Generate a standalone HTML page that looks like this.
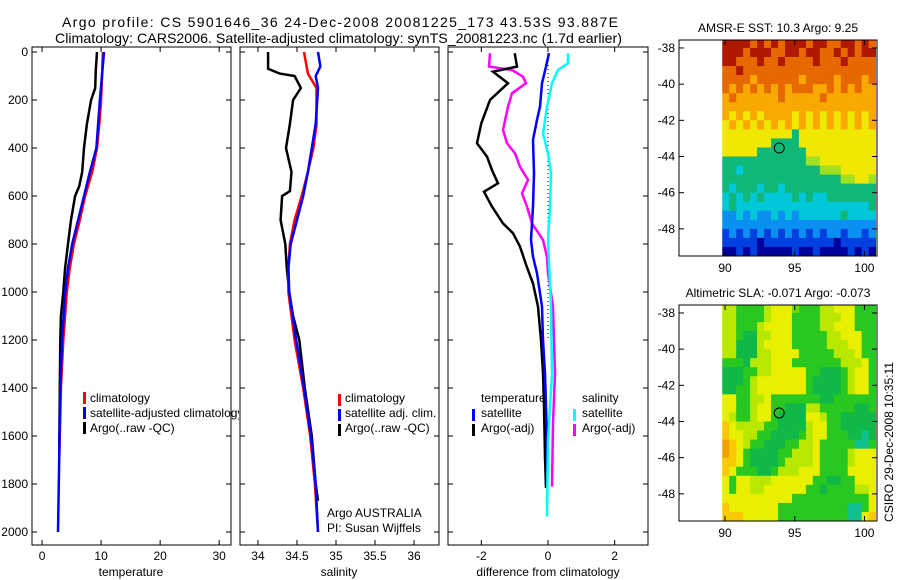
<!DOCTYPE html>
<html><head><meta charset="utf-8">
<style>
html,body{margin:0;padding:0;background:#fff;}
svg{display:block;font-family:"Liberation Sans",sans-serif;}
</style></head>
<body>
<svg id="fig" width="900" height="580" viewBox="0 0 900 580">
<text x="62" y="27" font-size="14" textLength="556" lengthAdjust="spacing">Argo profile: CS 5901646_36 24-Dec-2008 20081225_173 43.53S 93.887E</text>
<text x="55" y="43" font-size="14" textLength="567" lengthAdjust="spacingAndGlyphs">Climatology: CARS2006. Satellite-adjusted climatology: synTS_20081223.nc (1.7d earlier)</text>
<g id="layer"></g>
</svg>
<script>
// ---- profile data (depth in m) ----
const tDepthArgo = [0,75,150,200,300,400,500,560,600,700,800,900,1000,1100,1200,1400,1680];
const tArgo      = [9.3,9.1,9.0,8.3,7.6,7.1,6.8,6.3,5.6,4.9,4.4,3.9,3.6,3.2,3.1,3.0,2.9];
const tDepthClim = [0,200,300,400,500,600,700,800,900,1000,1200,1400,1700];
const tClim      = [10.3,10.0,9.7,9.3,8.5,7.3,6.4,5.4,4.7,4.2,3.6,3.2,2.9];
const tDepthSat  = [0,200,400,500,600,700,800,900,1000,1200,1400,1700,2000];
const tSat       = [10.5,9.8,9.2,8.1,7.1,6.1,5.1,4.4,3.9,3.4,3.1,2.9,2.7];

const sDepthArgo = [0,70,90,100,150,200,300,400,500,580,600,700,800,900,1000,1100,1200,1400,1600,1800,1870];
const sArgo      = [34.13,34.13,34.28,34.47,34.55,34.45,34.41,34.36,34.43,34.41,34.31,34.29,34.35,34.37,34.40,34.45,34.53,34.60,34.69,34.74,34.77];
const sDepthClim = [0,90,150,300,400,500,600,700,800,900,1000,1200,1400,1600,1800,2000];
const sClim      = [34.59,34.64,34.75,34.75,34.71,34.64,34.56,34.47,34.41,34.39,34.39,34.47,34.58,34.67,34.73,34.77];
const sDepthSat  = [0,60,100,150,300,400,500,600,700,800,900,1000,1200,1400,1600,1800,2000];
const sSat       = [34.77,34.80,34.74,34.77,34.74,34.69,34.64,34.58,34.50,34.42,34.39,34.40,34.49,34.59,34.68,34.74,34.77];

const dDepthTA = [5,61,82,130,200,297,380,436,492,547,582,644,714,755,811,894,964,1061,1200,1339,1478,1686,1817];
const dTempArgo = [-1.0,-0.93,-1.65,-1.2,-1.74,-2.0,-2.13,-1.83,-1.68,-1.5,-1.92,-1.68,-1.35,-1.05,-0.84,-0.64,-0.45,-0.3,-0.21,-0.15,-0.12,-0.09,-0.06];
const dDepthTS = [5,61,130,228,283,366,505,644,783,853,922,1061,1200,1339,1617,1800];
const dTempSat = [0.03,-0.06,-0.18,-0.24,-0.33,-0.45,-0.42,-0.45,-0.51,-0.45,-0.33,-0.18,-0.15,-0.09,-0.03,-0.03];
const dDepthSS = [5,47,75,130,228,339,422,505,644,783,1061,1339,1478,1617,1936];
const dSalSat  = [0.6,0.6,0.3,0.12,-0.03,-0.15,0,0.09,0.06,0,0.09,0.12,0.06,0,-0.03];
const dDepthSA = [5,61,75,103,130,172,228,325,380,422,478,533,589,644,714,783,853,922,1061,1200,1339,1547,1811];
const dSalArgo = [-1.74,-1.77,-1.08,-0.75,-0.66,-1.08,-1.2,-1.35,-1.23,-0.99,-0.84,-0.6,-0.78,-0.63,-0.48,-0.15,-0.03,0,0.15,0.18,0.21,0.15,0.12];

const depthTicks = [0,200,400,600,800,1000,1200,1400,1600,1800,2000];
const tTicks = [0,10,20,30];
const sTicks = [34,34.5,35,35.5,36];
const sTickLabels = ["34","34.5","35","35.5","36"];
const dTicks = [-2,0,2];

// ---- map data ----
const sstRows = [
"9999898989998998899898","9998999889989988989899","9988898898888988898888","8898888888888888888888",
"8888788888878888788878","8787878787888778787877","7877777787777787777777","7777777777777777777777",
"7676767777676767676767","6767676767676767676767","6666666666466666666666","6666666444466666666666",
"6666644444446666666666","4444444444445566666666","4434444444444455566666","4444444444444444455665",
"4344434434444444444444","3434343333434334444444","3433333333333333333334","2232322323233333343333",
"2222222222222222222222","1212121212121212212212","1111101111111111011111","0010100000100100001010"];
const slaRows = [
"3355553222455533222555","3355553222555533322555","3355532222555533222555","3356633222555553322255",
"3366632222555553332255","3366633222255555333255","5556333222555555533325","6665533222225566653225",
"6665322222225666653225","6655322222225666653225","2255332555555566555555","2255322556663355555665",
"2355322566662235566666","1233335566663225566666","1223355666653225556676","0123556665533255555775",
"0125666655333255553222","1125666653333255553222","1255566533322255552222","2522333222222556655222",
"2522332222225565555332","2222222222555555555552","1222222255555555557752","1112222255555555557721"];
const latTicks = [-38,-40,-42,-44,-46,-48];
const lonTicks = [90,95,100];
const argoLon = 93.887, argoLat = -43.53;

const NS="http://www.w3.org/2000/svg";
const LAYER=document.getElementById('layer');
function mk(tag,attrs,parent){const e=document.createElementNS(NS,tag);for(const k in attrs)e.setAttribute(k,attrs[k]);(parent||LAYER).appendChild(e);return e;}

const dY = d => 52 + d*0.24;
const panels = [
 {x0:32,x1:231,lo:-1.7,hi:32,name:'temperature'},
 {x0:240,x1:439,lo:33.77,hi:36.32,name:'salinity'},
 {x0:448,x1:648,lo:-3,hi:3,name:'difference'}
];
function sx(p,v){return p.x0+(v-p.lo)/(p.hi-p.lo)*(p.x1-p.x0);}
const pTop=47,pBot=545;

function drawLine(p,depths,vals,color,name){
  const pts=depths.map((d,i)=>sx(p,vals[i]).toFixed(1)+','+dY(d).toFixed(1)).join(' ');
  const e=mk('polyline',{points:pts,fill:'none',stroke:color,'stroke-width':2.5});
  
  
}

function txt(x,y,s,name,size,anchor,parent){
  const t=mk('text',{x:x,y:y,'font-size':size||12,'text-anchor':anchor||'start'},parent);
  t.textContent=s;
  
  
  return t;
}
function bar(x,y,c){mk('rect',{x:x,y:y-10,width:3,height:12,fill:c});}

panels.forEach((p,pi)=>{
  const g=mk('rect',{x:p.x0,y:pTop,width:p.x1-p.x0,height:pBot-pTop,fill:'#fff',stroke:'#000','stroke-width':1});
  
  
  depthTicks.forEach(d=>{
    mk('line',{x1:p.x0,x2:p.x0+5,y1:dY(d),y2:dY(d),stroke:'#000'});
    mk('line',{x1:p.x1-5,x2:p.x1,y1:dY(d),y2:dY(d),stroke:'#000'});
    if(pi===0){
      txt(28,dY(d)+4,String(d),'depth-tick-label',12,'end');
    }
  });
});

function xticks(p,ticks,labels){
  ticks.forEach((v,i)=>{
    const x=sx(p,v);
    mk('line',{x1:x,x2:x,y1:pBot-5,y2:pBot,stroke:'#000'});
    mk('line',{x1:x,x2:x,y1:pTop,y2:pTop+5,stroke:'#000'});
    txt(x,560,labels?labels[i]:String(v),'x-tick-label',12,'middle');
  });
}
xticks(panels[0],tTicks);
xticks(panels[1],sTicks,sTickLabels);
xticks(panels[2],dTicks);

const zx=sx(panels[2],0);
const zl=mk('line',{x1:zx,x2:zx,y1:pTop+2,y2:dY(1200),stroke:'#000','stroke-dasharray':'1,3'});



drawLine(panels[0],tDepthArgo,tArgo,'#000','temperature-argo-line');
drawLine(panels[0],tDepthClim,tClim,'#ff0000','temperature-climatology-line');
drawLine(panels[0],tDepthSat,tSat,'#0000ff','temperature-satellite-line');
drawLine(panels[1],sDepthArgo,sArgo,'#000','salinity-argo-line');
drawLine(panels[1],sDepthClim,sClim,'#ff0000','salinity-climatology-line');
drawLine(panels[1],sDepthSat,sSat,'#0000ff','salinity-satellite-line');
drawLine(panels[2],dDepthSA,dSalArgo,'#ff00ff','salinity-argo-diff-line');
drawLine(panels[2],dDepthTA,dTempArgo,'#000','temperature-argo-diff-line');
drawLine(panels[2],dDepthTS,dTempSat,'#0000ff','temperature-satellite-diff-line');
drawLine(panels[2],dDepthSS,dSalSat,'#00ffff','salinity-satellite-diff-line');

const defs=mk('defs',{});
const clip1=mk('clipPath',{id:'c1'},defs);mk('rect',{x:32,y:0,width:207,height:580},clip1);
const lg1=mk('g',{'clip-path':'url(#c1)'});


[["climatology","#f00"],["satellite-adjusted climatology","#00f"],["Argo(..raw -QC)","#000"]].forEach((r,i)=>{
  mk('rect',{x:83,y:392+i*15,width:3,height:12,fill:r[1]},lg1);
  txt(90,402+i*15,r[0],'temperature-legend-entry',12,'start',lg1);
});
[["climatology","#f00"],["satellite adj. clim.","#00f"],["Argo(..raw -QC)","#000"]].forEach((r,i)=>{
  bar(338,404+i*15,r[1]);txt(345,402+i*15,r[0],'salinity-legend-entry');
});
txt(327,517,"Argo AUSTRALIA",'argo-australia-label');
txt(327,532,"PI: Susan Wijffels",'pi-label');
txt(481,402,"temperature",'diff-legend-temperature-heading');
bar(472,419,'#00f');txt(481,417,"satellite",'diff-legend-temp-satellite');
bar(472,434,'#000');txt(481,432,"Argo(-adj)",'diff-legend-temp-argo');
txt(582,402,"salinity",'diff-legend-salinity-heading');
bar(573,419,'#0ff');txt(582,417,"satellite",'diff-legend-sal-satellite');
bar(573,434,'#f0f');txt(582,432,"Argo(-adj)",'diff-legend-sal-argo');

txt(131,576,"temperature",'x-axis-title-temperature',12,'middle');
txt(339,576,"salinity",'x-axis-title-salinity',12,'middle');
txt(548,576,"difference from climatology",'x-axis-title-difference',12,'middle');

// ---- maps ----
const sstColors=['#00009c','#0040e0','#0a90f0','#00c8d8','#10b878','#a0e020','#f0e800','#f8a800','#e86800','#b01800'];
const slaColors=['#f0a000','#f8c800','#e8f000','#b8e800','#70d800','#28c820','#10b848','#10c090'];
const lon0=86.7,lon1=100.9,lat0=-37.56,lat1=-49.5;
function drawMap(mapTop,rows,colors,title,name){
  const mx0=679,mx1=877,my0=mapTop,my1=mapTop+216;
  const X=lon=>mx0+(lon-lon0)/(lon1-lon0)*(mx1-mx0);
  const Y=lat=>my0+(lat-lat0)/(lat1-lat0)*(my1-my0);
  const cid='clip'+name;
  const cp=mk('clipPath',{id:cid},defs);mk('rect',{x:mx0,y:my0,width:mx1-mx0,height:my1-my0},cp);
  const g=mk('g',{'clip-path':'url(#'+cid+')'});
  
  
  rows.forEach((row,r)=>{
    for(let c=0;c<row.length;c++){
      const lonA=89.8+c*0.5, latA=-37.5-r*0.5;
      const cell=mk('rect',{x:X(lonA),y:Y(latA),width:X(lonA+0.5)-X(lonA)+0.4,height:Y(latA-0.5)-Y(latA)+0.4,fill:colors[+row[c]]},g);
      
      
    }
  });
  const box=mk('rect',{x:mx0,y:my0,width:mx1-mx0,height:my1-my0,fill:'none',stroke:'#000'});
  
  
  latTicks.forEach(l=>{
    const y=Y(l);
    mk('line',{x1:mx0,x2:mx0+5,y1:y,y2:y,stroke:'#000'});
    mk('line',{x1:mx1-5,x2:mx1,y1:y,y2:y,stroke:'#000'});
    txt(675,y+4,String(l),name+'-lat-label',12,'end');
  });
  lonTicks.forEach(l=>{
    const x=X(l);
    mk('line',{x1:x,x2:x,y1:my1-5,y2:my1,stroke:'#000'});
    mk('line',{x1:x,x2:x,y1:my0,y2:my0+5,stroke:'#000'});
    txt(x,my1+16,String(l),name+'-lon-label',12,'middle');
  });
  const m=mk('circle',{cx:X(argoLon),cy:Y(argoLat),r:5,fill:'none',stroke:'#000','stroke-width':1});
  
  
  txt(778,my0-8,title,name+'-title',12,'middle');
}
drawMap(40,sstRows,sstColors,"AMSR-E SST: 10.3 Argo: 9.25",'sst-map');
drawMap(305,slaRows,slaColors,"Altimetric SLA: -0.071 Argo: -0.073",'sla-map');

const cs=txt(0,0,"CSIRO 29-Dec-2008 10:35:11",'timestamp-label',12,'middle');
cs.setAttribute('transform','translate(893,442) rotate(-90)');
</script>
</body></html>
